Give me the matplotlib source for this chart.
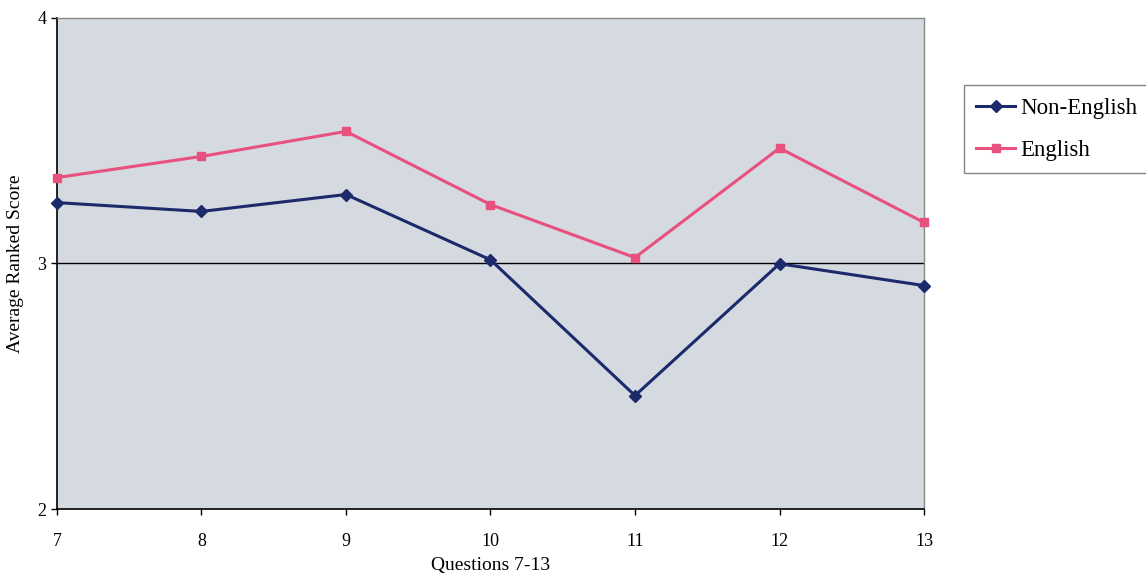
import matplotlib
matplotlib.use("Agg")
import matplotlib.pyplot as plt

questions = [7, 8, 9, 10, 11, 12, 13]
non_english = [3.248, 3.212, 3.281, 3.015, 2.462, 2.999, 2.91]
english = [3.35, 3.436, 3.538, 3.24, 3.024, 3.47, 3.167]
y_ticks = [2, 3, 4]

plt.rcParams['font.family'] = ['Liberation Serif', 'DejaVu Serif']

fig = plt.figure(figsize=(11.46, 5.76), dpi=100)
ax = fig.add_axes([0.0497, 0.1163, 0.7566, 0.8525])
ax.set_facecolor('#d5d9e0')

ax.axhline(3, color='black', lw=1, zorder=1)
ax.plot(questions, non_english, color='#1c2a6b', lw=2.2, marker='D', ms=6,
        label='Non-English', zorder=3, clip_on=False)
ax.plot(questions, english, color='#e8507e', lw=2.2, marker='s', ms=6,
        label='English', zorder=3, clip_on=False)

ax.set_xlim(7, 13)
ax.set_ylim(2, 4)
ax.set_xticks(questions)
ax.set_yticks(y_ticks)
ax.tick_params(axis='both', labelsize=13, direction='out', length=4, width=1)
ax.tick_params(axis='x', pad=13)
ax.set_xlabel('Questions 7-13', fontsize=14, labelpad=5)
ax.set_ylabel('Average Ranked Score', fontsize=14, labelpad=10)

for s in ['left', 'bottom']:
    ax.spines[s].set_color('black')
    ax.spines[s].set_linewidth(1.2)
for s in ['top', 'right']:
    ax.spines[s].set_color('#888888')
    ax.spines[s].set_linewidth(1.0)

leg = fig.legend(loc='upper left', bbox_to_anchor=(0.841, 0.852), fontsize=16.5,
                 frameon=True, fancybox=False, edgecolor='#666666',
                 handlelength=1.7, handletextpad=0.2, borderpad=0.55,
                 labelspacing=0.9, borderaxespad=0)
leg.get_frame().set_linewidth(1.0)

fig.savefig('out.png', dpi=100)
